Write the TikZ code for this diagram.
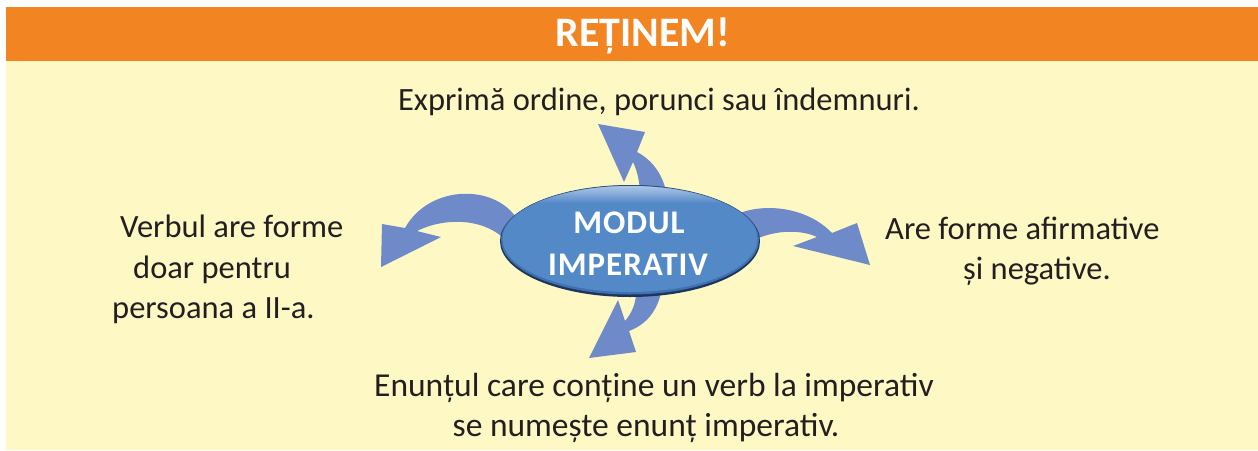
\documentclass[tikz,border=0pt]{standalone}
\usepackage{fontspec}
\setmainfont{Carlito}
\definecolor{bandorange}{HTML}{F28422}
\definecolor{panelyellow}{HTML}{FEF8C4}
\definecolor{arrowblue}{HTML}{6E8AC8}
\definecolor{ellblue}{HTML}{5489C8}
\definecolor{ellmid}{HTML}{3F71AE}
\definecolor{elldark}{HTML}{1B355E}
\definecolor{ink}{HTML}{231F20}
\tikzset{
  bodytext/.style={font=\fontsize{32.5}{36}\selectfont, text=ink, inner sep=0pt},
  widetext/.style={font=\fontsize{33.5}{37}\selectfont, text=ink, inner sep=0pt},
  blockarrow/.style={fill=arrowblue, draw=none},
  titletext/.style={font=\fontsize{42}{46}\selectfont\bfseries, text=white, inner sep=0pt},
  elltext/.style={font=\fontsize{33}{36}\selectfont\bfseries\addfontfeatures{LetterSpace=3}, text=white, inner sep=0pt}
}
\begin{document}
\begin{tikzpicture}[x=1pt,y=-1pt]
\useasboundingbox (0,0) rectangle (1258,450);
\fill[white] (0,0) rectangle (1258,450);
% panels
\fill[panelyellow] (6,61) rectangle (1258,450);
\fill[bandorange] (6,7) rectangle (1258,61);
\node[titletext, anchor=base] (title) at (643,46) {REȚINEM!};

% block arrows (drawn beneath the ellipse)
% left
\path[blockarrow] (520,224) .. controls (500,183) and (430,183) .. (405,228)
  -- (382,224) -- (381,267) -- (441,237) -- (417,231)
  .. controls (445,217) and (488,217) .. (510,245) -- cycle;
% right
\path[blockarrow] (735,215) .. controls (760,203) and (805,205) .. (832,233)
  -- (857,223) -- (870,265) -- (793,246) -- (817,237)
  .. controls (800,229) and (770,229) .. (745,245) -- cycle;
% top
\path[blockarrow] (668,202) .. controls (665,175) and (652,160) .. (637,152)
  -- (645,132) -- (598,124) -- (624,182) -- (633,162)
  .. controls (638,172) and (640,185) .. (641,202) -- cycle;
% bottom
\path[blockarrow] (636,288) .. controls (637,305) and (630,315) .. (625,321)
  -- (618,300) -- (589,358) -- (636,352) -- (629,331)
  .. controls (645,325) and (658,312) .. (662,288) -- cycle;

% ellipse
\fill[elldark] (630,241) ellipse [x radius=130, y radius=56];
\fill[ellmid] (630,240) ellipse [x radius=129, y radius=54.5];
\fill[ellblue] (630,239) ellipse [x radius=127.5, y radius=53];
\begin{scope}
  \clip (630,239) ellipse [x radius=127.5, y radius=53];
  \shade[top color=ellblue!45!white, bottom color=ellblue] (490,185) rectangle (770,203);
\end{scope}
\node[elltext, anchor=base] (modul) at (629,233) {MODUL};
\node[elltext, anchor=base] (imperativ) at (628,275) {IMPERATIV};

% texts
\node[bodytext, anchor=base] (toptext) at (659,110) {Exprimă ordine, porunci sau îndemnuri.};
\node[bodytext, anchor=base west] (left1) at (120,237) {Verbul are forme};
\node[bodytext, anchor=base west] (left2) at (133,278) {doar pentru};
\node[bodytext, anchor=base west] (left3) at (112,318) {persoana a II-a.};
\node[bodytext, anchor=base west] (right1) at (885,239) {Are forme afirmative};
\node[bodytext, anchor=base] (right2) at (1037,279) {și negative.};
\node[widetext, anchor=base] (bottom1) at (654,396) {Enunțul care conține un verb la imperativ};
\node[widetext, anchor=base] (bottom2) at (646,436) {se numește enunț imperativ.};
\end{tikzpicture}
\end{document}
